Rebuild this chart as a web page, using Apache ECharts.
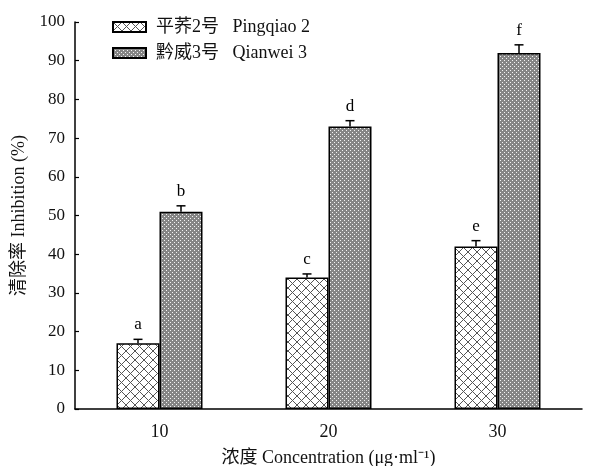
<!DOCTYPE html>
<html>
<head>
<meta charset="utf-8">
<script src="https://cdn.jsdelivr.net/npm/echarts@6/dist/echarts.min.js"></script>
<style>html,body{margin:0;padding:0;background:#fff;}#c{width:597px;height:466px;}</style>
</head>
<body>
<div id="c"></div>
<script>
const categories = ['10', '20', '30'];
const pingqiao = [17, 34, 42];
const qianwei = [51, 73, 92];
const pingqiaoErr = [1.0, 0.9, 1.5];
const qianweiErr = [1.5, 1.5, 2.1];
const pingqiaoLetters = ['a', 'c', 'e'];
const qianweiLetters = ['b', 'd', 'f'];
const seriesNames = ['平荞2号   Pingqiao 2', '黔威3号   Qianwei 3'];
const yMin = 0, yMax = 100, yStep = 10;

const FONT = '"Liberation Serif", "Times New Roman", "Noto Sans CJK SC", serif';

function crossPattern() {
  const c = document.createElement('canvas');
  c.width = 9; c.height = 9;
  const g = c.getContext('2d');
  g.fillStyle = '#fff'; g.fillRect(0, 0, 9, 9);
  g.strokeStyle = '#555'; g.lineWidth = 1;
  g.beginPath();
  g.moveTo(0, 0); g.lineTo(9, 9);
  g.moveTo(9, 0); g.lineTo(0, 9);
  g.stroke();
  return c;
}
function densePattern() {
  const c = document.createElement('canvas');
  c.width = 4; c.height = 4;
  const g = c.getContext('2d');
  g.fillStyle = '#858585'; g.fillRect(0, 0, 4, 4);
  g.fillStyle = '#f4f4f4';
  g.fillRect(0, 0, 1, 1);
  g.fillRect(2, 2, 1, 1);
  return c;
}

const BAR_W = 43;

function errSeries(values, errs, letters, offset) {
  return {
    type: 'custom',
    z: 5,
    silent: true,
    data: values.map((v, i) => [i, v, errs[i]]),
    encode: { x: 0, y: 1 },
    renderItem: function (params, api) {
      const i = api.value(0), v = api.value(1), e = api.value(2);
      const base = api.coord([i, v]);
      const top = api.coord([i, v + e]);
      const x = base[0] + offset;
      return {
        type: 'group',
        children: [
          { type: 'line', shape: { x1: x, y1: base[1], x2: x, y2: top[1] }, style: { stroke: '#000', lineWidth: 1.5 } },
          { type: 'line', shape: { x1: x - 4.5, y1: top[1], x2: x + 4.5, y2: top[1] }, style: { stroke: '#000', lineWidth: 1.5 } },
          { type: 'text', x: x, y: top[1] - 6, style: { text: letters[i], fill: '#000', font: '17px ' + FONT, textAlign: 'center', textVerticalAlign: 'bottom' } }
        ]
      };
    }
  };
}

const chart = echarts.init(document.getElementById('c'));
chart.setOption({
  backgroundColor: '#fff',
  animation: false,
  grid: { left: 75, right: 15, top: 22, bottom: 57, outerBoundsMode: 'none', containLabel: false },
  legend: {
    data: seriesNames,
    orient: 'vertical',
    left: 107,
    top: 13,
    itemWidth: 33,
    itemHeight: 10,
    itemGap: 8,
    icon: 'rect',
    textStyle: { fontFamily: FONT, fontSize: 18, color: '#111', padding: [0, 0, 0, 5] }
  },
  xAxis: {
    type: 'category',
    data: categories,
    axisLine: { lineStyle: { color: '#000', width: 1.5 } },
    axisTick: { show: false },
    axisLabel: { fontFamily: FONT, fontSize: 18, color: '#111', margin: 14 },
    name: '浓度 Concentration (μg·ml⁻¹)',
    nameLocation: 'middle',
    nameGap: 40,
    nameTextStyle: { fontFamily: FONT, fontSize: 18, color: '#111', verticalAlign: 'top' }
  },
  yAxis: {
    type: 'value',
    min: yMin, max: yMax, interval: yStep,
    splitLine: { show: false },
    axisLine: { show: true, lineStyle: { color: '#000', width: 1.5 } },
    axisTick: { show: true, inside: true, length: 4, lineStyle: { color: '#000', width: 1.2 } },
    axisLabel: { fontFamily: FONT, fontSize: 17, color: '#111', margin: 10 },
    name: '清除率 Inhibition (%)',
    nameLocation: 'middle',
    nameGap: 46,
    nameTextStyle: { fontFamily: FONT, fontSize: 18, color: '#111' }
  },
  series: [
    {
      name: seriesNames[0], type: 'bar', data: pingqiao,
      barWidth: BAR_W, barGap: '0%',
      itemStyle: { color: { image: crossPattern(), repeat: 'repeat' }, borderColor: '#000', borderWidth: 1.5 }
    },
    {
      name: seriesNames[1], type: 'bar', data: qianwei,
      barWidth: BAR_W, barGap: '0%',
      itemStyle: { color: { image: densePattern(), repeat: 'repeat' }, borderColor: '#000', borderWidth: 1.5 }
    },
    errSeries(pingqiao, pingqiaoErr, pingqiaoLetters, -BAR_W / 2),
    errSeries(qianwei, qianweiErr, qianweiLetters, BAR_W / 2)
  ]
});
</script>
</body>
</html>
